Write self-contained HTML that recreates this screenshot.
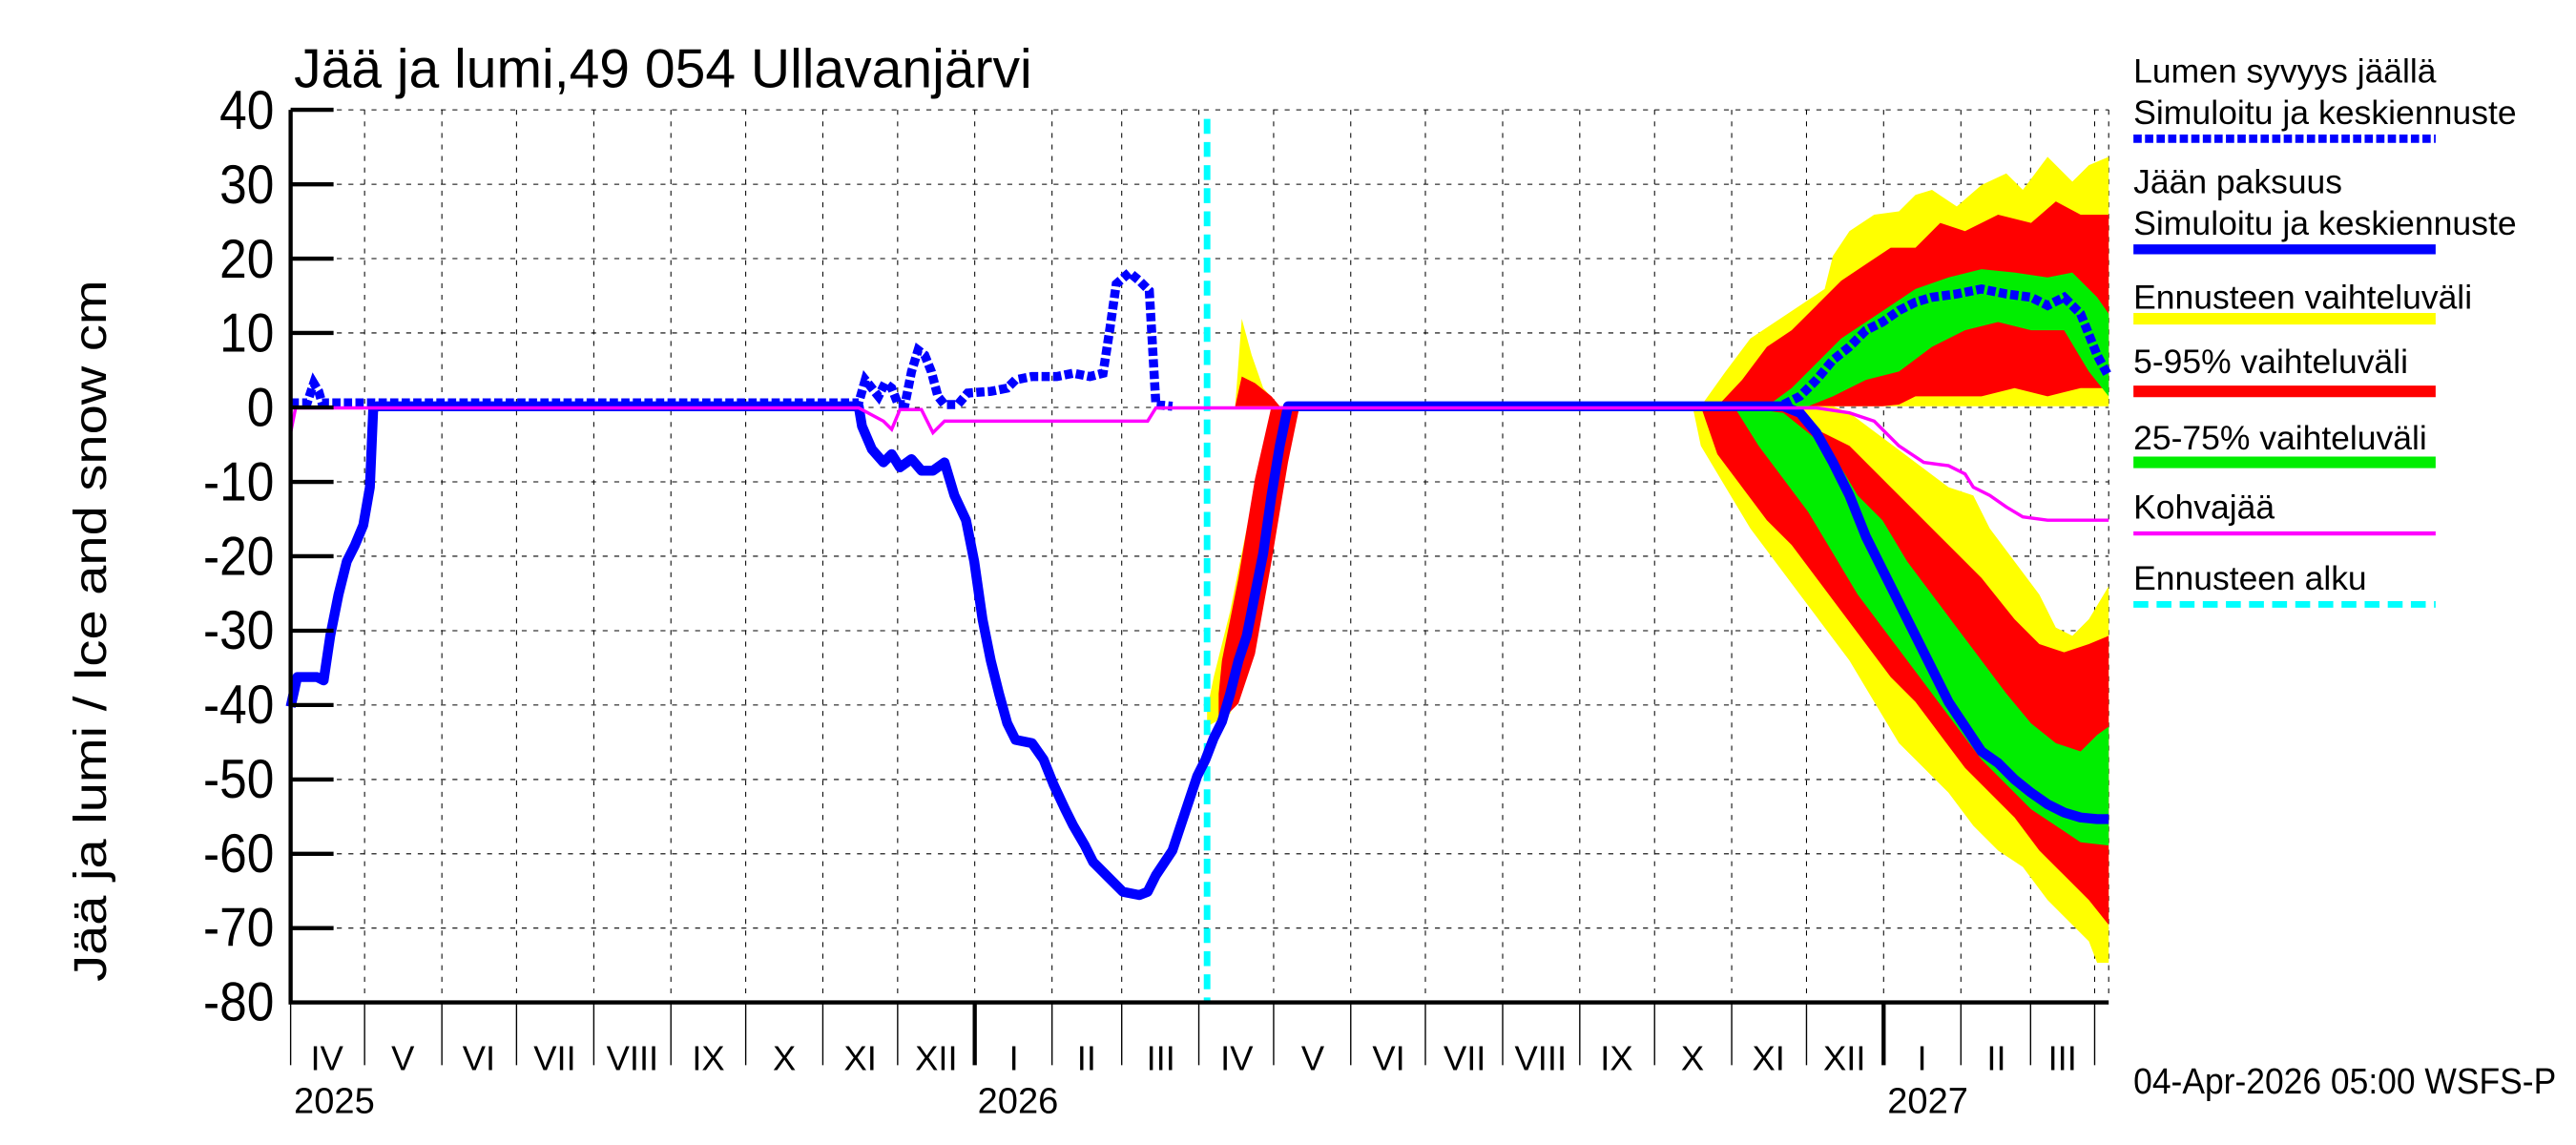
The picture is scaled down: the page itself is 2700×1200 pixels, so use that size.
<!DOCTYPE html>
<html><head><meta charset="utf-8"><style>html,body{margin:0;padding:0;background:#fff}svg{display:block}</style></head>
<body>
<svg width="2700" height="1200" viewBox="0 0 1560 693.33" xmlns="http://www.w3.org/2000/svg" font-family="Liberation Sans, sans-serif">
<rect width="1560" height="693.33" fill="#fff"/>
<!-- grid -->
<g stroke="#000" stroke-width="0.6" stroke-dasharray="3,4">
<line x1="176" y1="111.6" x2="1277" y2="111.6"/><line x1="176" y1="156.6" x2="1277" y2="156.6"/><line x1="176" y1="201.6" x2="1277" y2="201.6"/><line x1="176" y1="246.7" x2="1277" y2="246.7"/><line x1="176" y1="291.8" x2="1277" y2="291.8"/><line x1="176" y1="336.8" x2="1277" y2="336.8"/><line x1="176" y1="381.9" x2="1277" y2="381.9"/><line x1="176" y1="426.9" x2="1277" y2="426.9"/><line x1="176" y1="472" x2="1277" y2="472"/><line x1="176" y1="517" x2="1277" y2="517"/><line x1="176" y1="562" x2="1277" y2="562"/><line x1="176" y1="66.5" x2="1277" y2="66.5"/>
<line x1="220.8" y1="66.5" x2="220.8" y2="605"/><line x1="267.6" y1="66.5" x2="267.6" y2="605"/><line x1="312.8" y1="66.5" x2="312.8" y2="605"/><line x1="359.6" y1="66.5" x2="359.6" y2="605"/><line x1="406.3" y1="66.5" x2="406.3" y2="605"/><line x1="451.6" y1="66.5" x2="451.6" y2="605"/><line x1="498.3" y1="66.5" x2="498.3" y2="605"/><line x1="543.6" y1="66.5" x2="543.6" y2="605"/><line x1="590.3" y1="66.5" x2="590.3" y2="605"/><line x1="637.1" y1="66.5" x2="637.1" y2="605"/><line x1="679.3" y1="66.5" x2="679.3" y2="605"/><line x1="726" y1="66.5" x2="726" y2="605"/><line x1="771.3" y1="66.5" x2="771.3" y2="605"/><line x1="818" y1="66.5" x2="818" y2="605"/><line x1="863.2" y1="66.5" x2="863.2" y2="605"/><line x1="910" y1="66.5" x2="910" y2="605"/><line x1="956.7" y1="66.5" x2="956.7" y2="605"/><line x1="1002" y1="66.5" x2="1002" y2="605"/><line x1="1048.7" y1="66.5" x2="1048.7" y2="605"/><line x1="1094" y1="66.5" x2="1094" y2="605"/><line x1="1140.7" y1="66.5" x2="1140.7" y2="605"/><line x1="1187.5" y1="66.5" x2="1187.5" y2="605"/><line x1="1229.7" y1="66.5" x2="1229.7" y2="605"/><line x1="1268.5" y1="66.5" x2="1268.5" y2="605"/><line x1="1277" y1="66.5" x2="1277" y2="605"/>
</g>
<!-- bands forecast 1 -->
<polygon fill="#ff0" points="731,440 745,432 755,405 765,360 775,300 782,262 787,246 775,246 765,270 755,320 745,370 735,410 731,430"/>
<polygon fill="#f00" points="738,438 750,426 760,396 770,340 780,280 787,246 770,246 760,290 750,350 740,400 738,420"/>
<polygon fill="#ff0" points="748,246 752,193 758,215 765,235 775,246"/>
<polygon fill="#f00" points="748,246 752,228 760,232 770,240 775,246"/>
<!-- bands forecast 2 snow -->
<polygon fill="#ff0" points="1030,246 1045,225 1060,205 1075,195 1090,185 1105,175 1110,155 1120,140 1135,130 1150,128 1160,118 1170,115 1185,125 1200,112 1215,105 1225,115 1240,95 1255,110 1265,100 1277,95 1277,246"/>
<polygon fill="#f00" points="1040,246 1055,230 1070,210 1085,200 1100,185 1115,170 1130,160 1145,150 1160,150 1175,135 1190,140 1210,130 1230,135 1245,122 1260,130 1277,130 1277,235 1260,235 1240,240 1220,235 1200,240 1180,240 1160,240 1150,245 1140,246"/>
<polygon fill="#0e0" points="1070,246 1085,235 1100,220 1115,205 1130,195 1145,185 1160,175 1180,168 1200,163 1220,165 1240,168 1255,165 1270,180 1277,190 1277,240 1265,225 1250,200 1230,200 1210,195 1190,200 1170,210 1150,225 1130,230 1110,240 1095,246"/>
<!-- bands forecast 2 ice -->
<polygon fill="#ff0" points="1025,246 1030,270 1045,295 1060,320 1075,340 1090,360 1105,380 1120,400 1135,425 1150,450 1165,465 1180,480 1195,500 1210,515 1225,525 1240,545 1255,560 1265,570 1270,583 1277,583 1277,355 1265,375 1255,385 1245,380 1235,360 1220,340 1205,320 1195,300 1180,295 1160,280 1140,265 1120,250 1110,246"/>
<polygon fill="#f00" points="1030,246 1040,275 1055,295 1070,315 1085,330 1100,350 1115,370 1130,390 1145,410 1160,425 1175,445 1190,465 1205,480 1220,495 1235,515 1250,530 1265,545 1277,560 1277,385 1265,390 1250,395 1235,390 1220,375 1200,350 1180,330 1160,310 1140,290 1120,270 1100,260 1080,246"/>
<polygon fill="#0e0" points="1050,246 1065,270 1080,290 1095,310 1110,335 1125,360 1140,380 1155,400 1170,420 1185,440 1200,460 1215,475 1230,490 1245,500 1260,510 1277,512 1277,440 1270,445 1260,455 1245,450 1230,438 1215,420 1200,400 1185,380 1170,360 1155,340 1140,315 1125,300 1110,275 1095,262 1080,250"/>
<!-- forecast start -->
<line x1="731" y1="72" x2="731" y2="607" stroke="#0ff" stroke-width="4" stroke-dasharray="9,5"/>
<!-- ice thickness -->
<polyline fill="none" stroke="#00f" stroke-width="6" stroke-linejoin="round" points="176,428 180,410 192,410 196,412 200,385 205,360 210,340 215,330 220,318 224,295 226,248 228,246 520,246 522,258 528,272 535,280 540,275 545,283 552,278 558,285 565,285 572,280 578,300 585,315 590,340 595,375 600,400 605,420 610,438 615,448 625,450 632,460 638,475 645,490 650,500 657,512 662,522 670,530 680,540 690,542 695,540 700,530 710,515 715,500 720,485 725,470 730,460 735,447 740,437 745,420 750,400 755,385 760,360 765,335 770,300 775,270 780,246 1080,246 1090,250 1100,262 1110,280 1120,300 1130,325 1140,345 1150,365 1160,385 1170,405 1180,425 1190,440 1200,455 1210,462 1220,472 1230,480 1240,487 1250,492 1260,495 1270,496 1277,496"/>
<!-- snow -->
<polyline fill="none" stroke="#00f" stroke-width="5.5" stroke-dasharray="5,2" points="176,244 186,244 190,232 193,237 195,244 520,244 524,230 528,235 532,240 536,232 540,235 544,245 548,245 552,225 556,212 560,215 564,225 568,240 572,245 580,245 586,238 600,237 610,235 615,230 625,228 640,228 650,226 660,228 668,226 672,200 676,172 684,165 690,170 696,176 700,245 710,246"/>
<polyline fill="none" stroke="#00f" stroke-width="5.5" stroke-dasharray="5,2" points="1080,245 1090,240 1100,230 1110,218 1120,210 1130,200 1140,195 1150,188 1160,183 1170,180 1185,178 1200,175 1215,178 1230,180 1240,185 1250,180 1260,190 1270,215 1277,228"/>
<!-- kohvajaa -->
<polyline fill="none" stroke="#f0f" stroke-width="2" points="176,262 179,247 520,247 535,255 540,260 545,248 558,248 565,262 572,255 580,255 695,255 700,247 1100,247 1120,250 1135,255 1150,270 1165,280 1180,282 1190,287 1195,295 1205,300 1215,307 1225,313 1240,315 1277,315"/>
<!-- axes -->
<g stroke="#000" stroke-width="2.5" fill="none">
<polyline points="176,66.5 176,607 1277,607"/>
</g>
<g stroke="#000" stroke-width="2.5">
<line x1="176" y1="66.5" x2="202" y2="66.5"/><line x1="176" y1="111.6" x2="202" y2="111.6"/><line x1="176" y1="156.6" x2="202" y2="156.6"/><line x1="176" y1="201.6" x2="202" y2="201.6"/><line x1="176" y1="246.7" x2="202" y2="246.7"/><line x1="176" y1="291.8" x2="202" y2="291.8"/><line x1="176" y1="336.8" x2="202" y2="336.8"/><line x1="176" y1="381.9" x2="202" y2="381.9"/><line x1="176" y1="426.9" x2="202" y2="426.9"/><line x1="176" y1="472" x2="202" y2="472"/><line x1="176" y1="517" x2="202" y2="517"/><line x1="176" y1="562" x2="202" y2="562"/>
<line x1="590.3" y1="607" x2="590.3" y2="645"/><line x1="1140.7" y1="607" x2="1140.7" y2="645"/>
</g>
<g stroke="#000" stroke-width="0.8">
<line x1="176" y1="607" x2="176" y2="645"/><line x1="220.8" y1="607" x2="220.8" y2="645"/><line x1="267.6" y1="607" x2="267.6" y2="645"/><line x1="312.8" y1="607" x2="312.8" y2="645"/><line x1="359.6" y1="607" x2="359.6" y2="645"/><line x1="406.3" y1="607" x2="406.3" y2="645"/><line x1="451.6" y1="607" x2="451.6" y2="645"/><line x1="498.3" y1="607" x2="498.3" y2="645"/><line x1="543.6" y1="607" x2="543.6" y2="645"/><line x1="637.1" y1="607" x2="637.1" y2="645"/><line x1="679.3" y1="607" x2="679.3" y2="645"/><line x1="726" y1="607" x2="726" y2="645"/><line x1="771.3" y1="607" x2="771.3" y2="645"/><line x1="818" y1="607" x2="818" y2="645"/><line x1="863.2" y1="607" x2="863.2" y2="645"/><line x1="910" y1="607" x2="910" y2="645"/><line x1="956.7" y1="607" x2="956.7" y2="645"/><line x1="1002" y1="607" x2="1002" y2="645"/><line x1="1048.7" y1="607" x2="1048.7" y2="645"/><line x1="1094" y1="607" x2="1094" y2="645"/><line x1="1187.5" y1="607" x2="1187.5" y2="645"/><line x1="1229.7" y1="607" x2="1229.7" y2="645"/><line x1="1268.5" y1="607" x2="1268.5" y2="645"/>
</g>
<!-- y labels -->
<g font-size="33" text-anchor="end" fill="#000">
<g transform="translate(166,0) scale(0.9,1)">
<text x="0" y="78">40</text><text x="0" y="123">30</text><text x="0" y="168">20</text><text x="0" y="213">10</text><text x="0" y="258">0</text><text x="0" y="303">-10</text><text x="0" y="348">-20</text><text x="0" y="393">-30</text><text x="0" y="438">-40</text><text x="0" y="483">-50</text><text x="0" y="528">-60</text><text x="0" y="573">-70</text><text x="0" y="618">-80</text>
</g></g>
<text transform="translate(64,382) rotate(-90)" font-size="28" text-anchor="middle" textLength="425" lengthAdjust="spacingAndGlyphs">Jää ja lumi / Ice and snow    cm</text>
<text x="178" y="53" font-size="33" textLength="447" lengthAdjust="spacingAndGlyphs">Jää ja lumi,49 054 Ullavanjärvi</text>
<!-- month labels -->
<g font-size="21" text-anchor="middle">
<text x="198" y="648">IV</text><text x="244" y="648">V</text><text x="290" y="648">VI</text><text x="336" y="648">VII</text><text x="383" y="648">VIII</text><text x="429" y="648">IX</text><text x="475" y="648">X</text><text x="521" y="648">XI</text><text x="567" y="648">XII</text><text x="614" y="648">I</text><text x="658" y="648">II</text><text x="703" y="648">III</text><text x="749" y="648">IV</text><text x="795" y="648">V</text><text x="841" y="648">VI</text><text x="887" y="648">VII</text><text x="933" y="648">VIII</text><text x="979" y="648">IX</text><text x="1025" y="648">X</text><text x="1071" y="648">XI</text><text x="1117" y="648">XII</text><text x="1164" y="648">I</text><text x="1209" y="648">II</text><text x="1249" y="648">III</text>
</g>
<g font-size="22">
<text x="178" y="674">2025</text><text x="592" y="674">2026</text><text x="1143" y="674">2027</text>
<text x="1292" y="662" textLength="256" lengthAdjust="spacingAndGlyphs">04-Apr-2026 05:00 WSFS-P</text>
</g>
<!-- legend -->
<g font-size="20.5">
<text x="1292" y="50">Lumen syvyys jäällä</text>
<text x="1292" y="75" textLength="232" lengthAdjust="spacingAndGlyphs">Simuloitu ja keskiennuste</text>
<text x="1292" y="117">Jään paksuus</text>
<text x="1292" y="142" textLength="232" lengthAdjust="spacingAndGlyphs">Simuloitu ja keskiennuste</text>
<text x="1292" y="187">Ennusteen vaihteluväli</text>
<text x="1292" y="226">5-95% vaihteluväli</text>
<text x="1292" y="272">25-75% vaihteluväli</text>
<text x="1292" y="314">Kohvajää</text>
<text x="1292" y="357">Ennusteen alku</text>
</g>
<line x1="1292" y1="84" x2="1475" y2="84" stroke="#00f" stroke-width="5" stroke-dasharray="5,2"/>
<line x1="1292" y1="151" x2="1475" y2="151" stroke="#00f" stroke-width="6"/>
<line x1="1292" y1="193" x2="1475" y2="193" stroke="#ff0" stroke-width="7"/>
<line x1="1292" y1="237" x2="1475" y2="237" stroke="#f00" stroke-width="7"/>
<line x1="1292" y1="280" x2="1475" y2="280" stroke="#0e0" stroke-width="7"/>
<line x1="1292" y1="323" x2="1475" y2="323" stroke="#f0f" stroke-width="2.5"/>
<line x1="1292" y1="366" x2="1475" y2="366" stroke="#0ff" stroke-width="4" stroke-dasharray="9,5"/>
</svg>
</body></html>
